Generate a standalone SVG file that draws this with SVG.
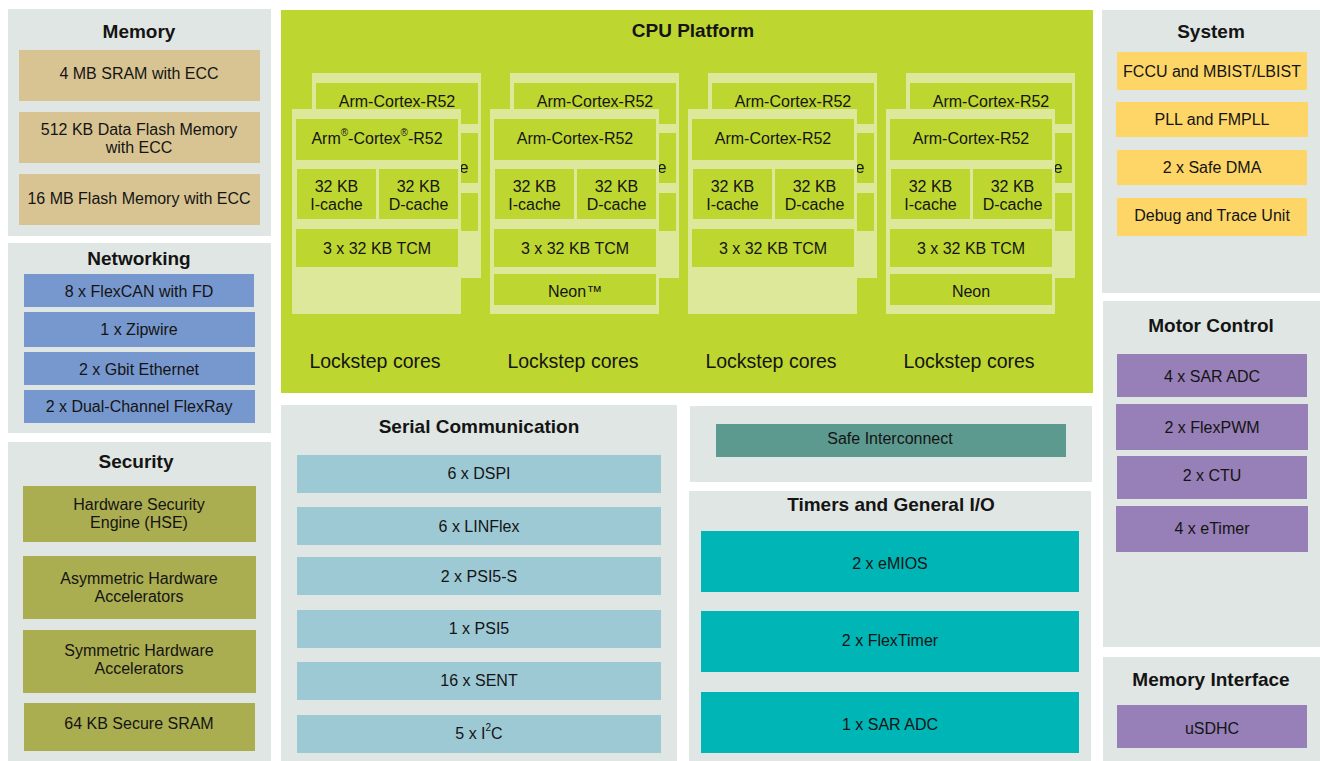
<svg xmlns="http://www.w3.org/2000/svg" width="1320" height="761" viewBox="0 0 1320 761">
<style>
text{font-family:"Liberation Sans",Arial,sans-serif;fill:#141414;dominant-baseline:central;text-anchor:middle}
.t{font-size:16px}
.h{font-size:19px;font-weight:bold}
.c{font-size:16px}
.ls{font-size:19.5px}
.panel{fill:#E0E6E3}
.cpu{fill:#BED630}
.fr{fill:#DDE89B}
.in{fill:#BED630}
.mem{fill:#D8C492}
.net{fill:#7798CE}
.sec{fill:#AAAD50}
.ser{fill:#9DC9D5}
.si{fill:#5C998F}
.tim{fill:#00B5B5}
.sys{fill:#FDD667}
.mot{fill:#977FB7}
</style>
<rect width="1320" height="761" fill="#FFFFFF"/>

<g id="memory">
<rect class="panel" x="8" y="9" width="263" height="227"/>
<text class="h" x="139" y="31">Memory</text>
<rect class="mem" x="19" y="50" width="241" height="51"/>
<text class="t" x="139" y="73">4 MB SRAM with ECC</text>
<rect class="mem" x="19" y="112" width="241" height="51"/>
<text class="t" x="139" y="129">512 KB Data Flash Memory</text>
<text class="t" x="139" y="147">with ECC</text>
<rect class="mem" x="19" y="174" width="241" height="51"/>
<text class="t" x="139" y="198">16 MB Flash Memory with ECC</text>
</g>

<g id="networking">
<rect class="panel" x="8" y="243" width="263" height="190"/>
<text class="h" x="139" y="258">Networking</text>
<rect class="net" x="24" y="274" width="230" height="33"/>
<text class="t" x="139" y="291">8 x FlexCAN with FD</text>
<rect class="net" x="24" y="312" width="231" height="35"/>
<text class="t" x="139" y="329">1 x Zipwire</text>
<rect class="net" x="24" y="352" width="231" height="33"/>
<text class="t" x="139" y="369">2 x Gbit Ethernet</text>
<rect class="net" x="24" y="390" width="231" height="33"/>
<text class="t" x="139" y="406">2 x Dual-Channel FlexRay</text>
</g>

<g id="security">
<rect class="panel" x="8" y="442" width="263" height="319"/>
<text class="h" x="136" y="461">Security</text>
<rect class="sec" x="23" y="486" width="233" height="56"/>
<text class="t" x="139" y="504">Hardware Security</text>
<text class="t" x="139" y="522">Engine (HSE)</text>
<rect class="sec" x="23" y="556" width="233" height="63"/>
<text class="t" x="139" y="578">Asymmetric Hardware</text>
<text class="t" x="139" y="596">Accelerators</text>
<rect class="sec" x="23" y="630" width="233" height="63"/>
<text class="t" x="139" y="650">Symmetric Hardware</text>
<text class="t" x="139" y="668">Accelerators</text>
<rect class="sec" x="24" y="703" width="231" height="48"/>
<text class="t" x="139" y="723">64 KB Secure SRAM</text>
</g>

<g id="cpu-platform">
<rect class="cpu" x="281" y="10" width="812" height="383"/>
<text class="h" x="693" y="30">CPU Platform</text>
</g>

<g id="core1">
<g transform="translate(20,-36)">
<rect class="fr" x="292" y="109" width="169" height="205"/>
<rect class="in" x="296" y="119" width="162" height="41"/>
<text class="c" x="377" y="137">Arm-Cortex-R52</text>
<rect class="in" x="297" y="169" width="79" height="50"/>
<rect class="in" x="379" y="169" width="79" height="50"/>
<text class="c" x="418.5" y="203">D-cache</text>
<rect class="in" x="296" y="229" width="162" height="38"/>
</g>
<rect class="fr" x="292" y="109" width="169" height="205"/>
<rect class="in" x="296" y="119" width="162" height="41"/>
<text class="c" x="377" y="138">Arm<tspan font-size="10" baseline-shift="super">®</tspan>-Cortex<tspan font-size="10" baseline-shift="super">®</tspan>-R52</text>
<rect class="in" x="297" y="169" width="79" height="50"/>
<text class="c" x="336.5" y="186">32 KB</text>
<text class="c" x="336.5" y="204">I-cache</text>
<rect class="in" x="379" y="169" width="79" height="50"/>
<text class="c" x="418.5" y="186">32 KB</text>
<text class="c" x="418.5" y="204">D-cache</text>
<rect class="in" x="296" y="229" width="162" height="38"/>
<text class="c" x="377" y="248">3 x 32 KB TCM</text>
<text class="ls" x="375" y="361">Lockstep cores</text>
</g>

<g id="core2" transform="translate(198,0)">
<g transform="translate(20,-36)">
<rect class="fr" x="292" y="109" width="169" height="205"/>
<rect class="in" x="296" y="119" width="162" height="41"/>
<text class="c" x="377" y="137">Arm-Cortex-R52</text>
<rect class="in" x="297" y="169" width="79" height="50"/>
<rect class="in" x="379" y="169" width="79" height="50"/>
<text class="c" x="418.5" y="203">D-cache</text>
<rect class="in" x="296" y="229" width="162" height="38"/>
</g>
<rect class="fr" x="292" y="109" width="169" height="205"/>
<rect class="in" x="296" y="119" width="162" height="41"/>
<text class="c" x="377" y="138">Arm-Cortex-R52</text>
<rect class="in" x="297" y="169" width="79" height="50"/>
<text class="c" x="336.5" y="186">32 KB</text>
<text class="c" x="336.5" y="204">I-cache</text>
<rect class="in" x="379" y="169" width="79" height="50"/>
<text class="c" x="418.5" y="186">32 KB</text>
<text class="c" x="418.5" y="204">D-cache</text>
<rect class="in" x="296" y="229" width="162" height="38"/>
<text class="c" x="377" y="248">3 x 32 KB TCM</text>
<rect class="in" x="296" y="274" width="162" height="31"/>
<text class="c" x="377" y="291">Neon™</text>
<text class="ls" x="375" y="361">Lockstep cores</text>
</g>

<g id="core3" transform="translate(396,0)">
<g transform="translate(20,-36)">
<rect class="fr" x="292" y="109" width="169" height="205"/>
<rect class="in" x="296" y="119" width="162" height="41"/>
<text class="c" x="377" y="137">Arm-Cortex-R52</text>
<rect class="in" x="297" y="169" width="79" height="50"/>
<rect class="in" x="379" y="169" width="79" height="50"/>
<text class="c" x="418.5" y="203">D-cache</text>
<rect class="in" x="296" y="229" width="162" height="38"/>
</g>
<rect class="fr" x="292" y="109" width="169" height="205"/>
<rect class="in" x="296" y="119" width="162" height="41"/>
<text class="c" x="377" y="138">Arm-Cortex-R52</text>
<rect class="in" x="297" y="169" width="79" height="50"/>
<text class="c" x="336.5" y="186">32 KB</text>
<text class="c" x="336.5" y="204">I-cache</text>
<rect class="in" x="379" y="169" width="79" height="50"/>
<text class="c" x="418.5" y="186">32 KB</text>
<text class="c" x="418.5" y="204">D-cache</text>
<rect class="in" x="296" y="229" width="162" height="38"/>
<text class="c" x="377" y="248">3 x 32 KB TCM</text>
<text class="ls" x="375" y="361">Lockstep cores</text>
</g>

<g id="core4" transform="translate(594,0)">
<g transform="translate(20,-36)">
<rect class="fr" x="292" y="109" width="169" height="205"/>
<rect class="in" x="296" y="119" width="162" height="41"/>
<text class="c" x="377" y="137">Arm-Cortex-R52</text>
<rect class="in" x="297" y="169" width="79" height="50"/>
<rect class="in" x="379" y="169" width="79" height="50"/>
<text class="c" x="418.5" y="203">D-cache</text>
<rect class="in" x="296" y="229" width="162" height="38"/>
</g>
<rect class="fr" x="292" y="109" width="169" height="205"/>
<rect class="in" x="296" y="119" width="162" height="41"/>
<text class="c" x="377" y="138">Arm-Cortex-R52</text>
<rect class="in" x="297" y="169" width="79" height="50"/>
<text class="c" x="336.5" y="186">32 KB</text>
<text class="c" x="336.5" y="204">I-cache</text>
<rect class="in" x="379" y="169" width="79" height="50"/>
<text class="c" x="418.5" y="186">32 KB</text>
<text class="c" x="418.5" y="204">D-cache</text>
<rect class="in" x="296" y="229" width="162" height="38"/>
<text class="c" x="377" y="248">3 x 32 KB TCM</text>
<rect class="in" x="296" y="274" width="162" height="31"/>
<text class="c" x="377" y="291">Neon</text>
<text class="ls" x="375" y="361">Lockstep cores</text>
</g>

<g id="serial-communication">
<rect class="panel" x="281" y="405" width="396" height="356"/>
<text class="h" x="479" y="426">Serial Communication</text>
<rect class="ser" x="297" y="455" width="364" height="38"/>
<text class="t" x="479" y="473">6 x DSPI</text>
<rect class="ser" x="297" y="507" width="364" height="38"/>
<text class="t" x="479" y="526">6 x LINFlex</text>
<rect class="ser" x="297" y="557" width="364" height="38"/>
<text class="t" x="479" y="576">2 x PSI5-S</text>
<rect class="ser" x="297" y="610" width="364" height="38"/>
<text class="t" x="479" y="628">1 x PSI5</text>
<rect class="ser" x="297" y="662" width="364" height="38"/>
<text class="t" x="479" y="680">16 x SENT</text>
<rect class="ser" x="297" y="715" width="364" height="38"/>
<text class="t" x="479" y="733">5 x I<tspan font-size="10" baseline-shift="super">2</tspan>C</text>
</g>

<g id="safe-interconnect">
<rect class="panel" x="690" y="406" width="402" height="76"/>
<rect class="si" x="716" y="424" width="350" height="33"/>
<text class="t" x="890" y="438">Safe Interconnect</text>
</g>

<g id="timers-gpio">
<rect class="panel" x="689" y="491" width="402" height="270"/>
<text class="h" x="891" y="504">Timers and General I/O</text>
<rect class="tim" x="701" y="531" width="378" height="61"/>
<text class="t" x="890" y="563">2 x eMIOS</text>
<rect class="tim" x="701" y="611" width="378" height="61"/>
<text class="t" x="890" y="640">2 x FlexTimer</text>
<rect class="tim" x="701" y="692" width="378" height="61"/>
<text class="t" x="890" y="724">1 x SAR ADC</text>
</g>

<g id="system">
<rect class="panel" x="1102" y="10" width="218" height="283"/>
<text class="h" x="1211" y="31">System</text>
<rect class="sys" x="1117" y="52" width="190" height="38"/>
<text class="t" x="1212" y="71">FCCU and MBIST/LBIST</text>
<rect class="sys" x="1116" y="102" width="192" height="35"/>
<text class="t" x="1212" y="119">PLL and FMPLL</text>
<rect class="sys" x="1117" y="150" width="190" height="35"/>
<text class="t" x="1212" y="167">2 x Safe DMA</text>
<rect class="sys" x="1117" y="198" width="190" height="38"/>
<text class="t" x="1212" y="215">Debug and Trace Unit</text>
</g>

<g id="motor-control">
<rect class="panel" x="1103" y="301" width="217" height="346"/>
<text class="h" x="1211" y="325">Motor Control</text>
<rect class="mot" x="1117" y="354" width="190" height="43"/>
<text class="t" x="1212" y="376">4 x SAR ADC</text>
<rect class="mot" x="1116" y="404" width="192" height="46"/>
<text class="t" x="1212" y="427">2 x FlexPWM</text>
<rect class="mot" x="1117" y="456" width="190" height="43"/>
<text class="t" x="1212" y="475">2 x CTU</text>
<rect class="mot" x="1116" y="506" width="192" height="46"/>
<text class="t" x="1212" y="528">4 x eTimer</text>
</g>

<g id="memory-interface">
<rect class="panel" x="1103" y="657" width="217" height="104"/>
<text class="h" x="1211" y="679">Memory Interface</text>
<rect class="mot" x="1117" y="705" width="190" height="43"/>
<text class="t" x="1212" y="728">uSDHC</text>
</g>

<g id="connectors"></g>
</svg>
